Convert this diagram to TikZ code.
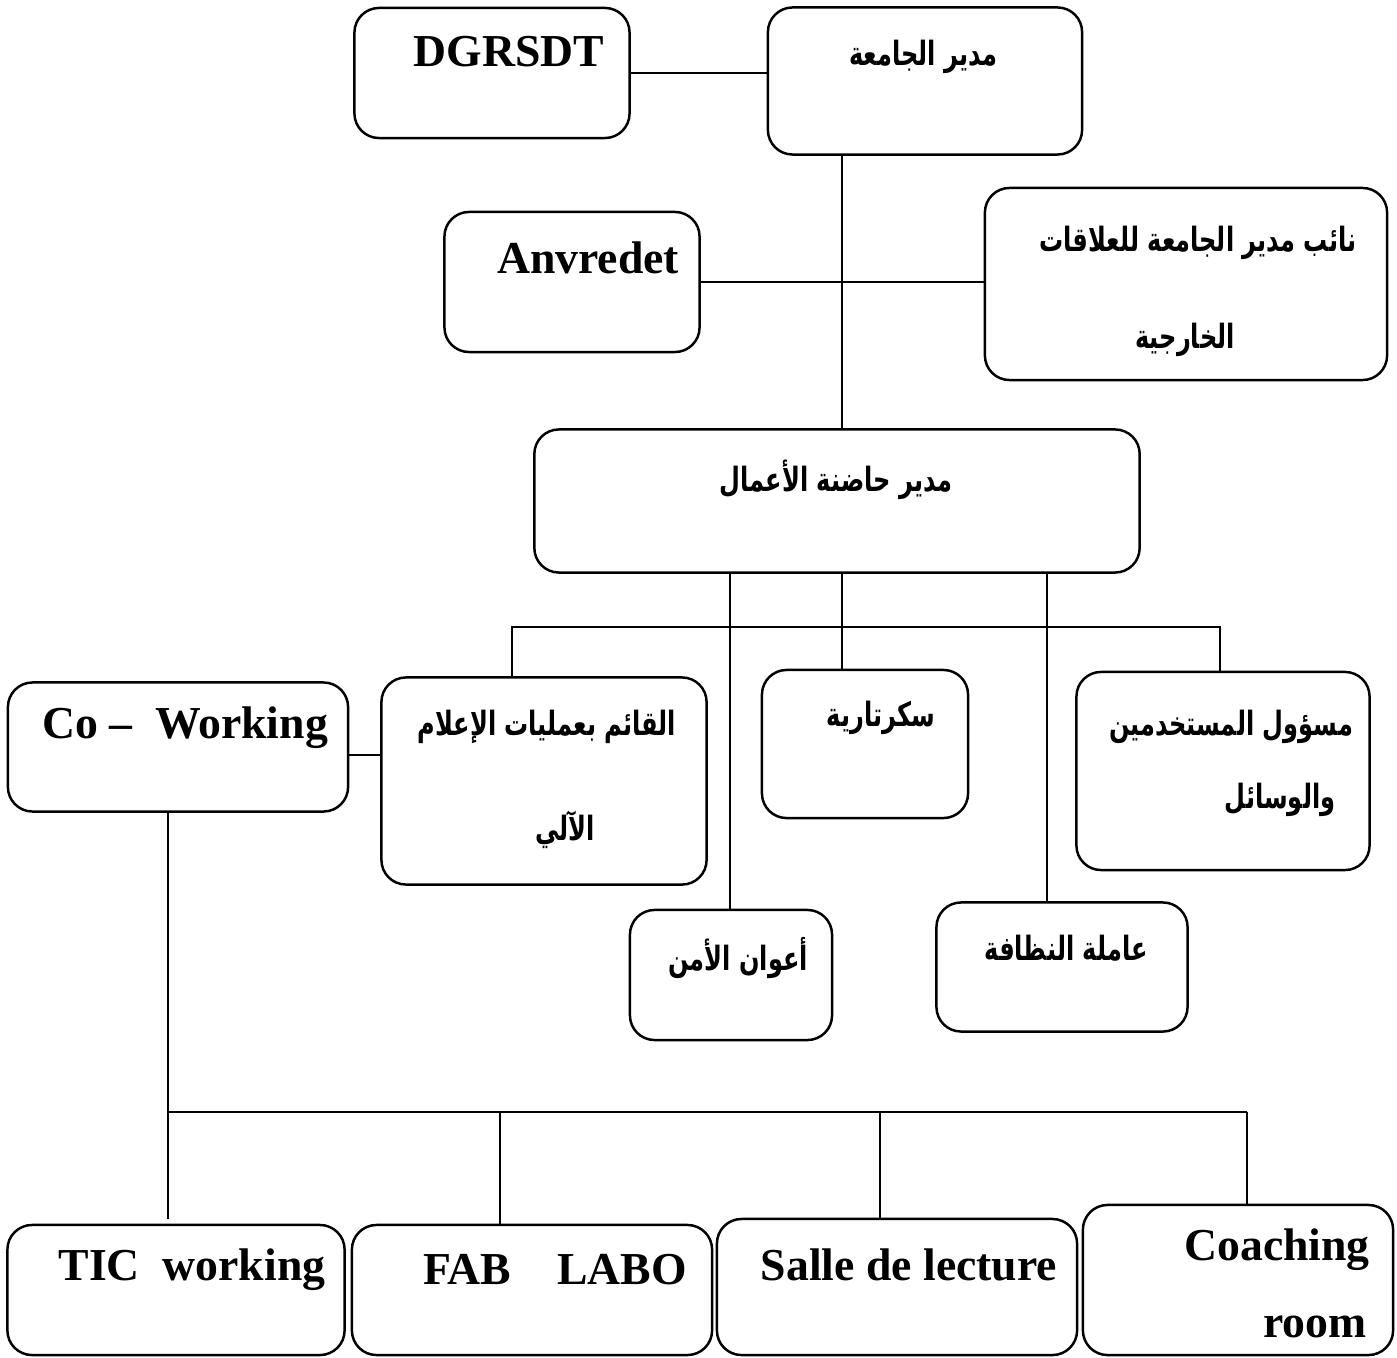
\documentclass[tikz,border=0pt]{standalone}
\usepackage{fontspec}
\setmainfont{Liberation Serif}
\newfontfamily\arabicfont[Script=Arabic]{DejaVu Sans}
\TeXXeTstate=1
\newcommand{\artext}[1]{\scalebox{0.72}[1]{\arabicfont\bfseries\beginR #1\endR}}

\begin{document}
\begin{tikzpicture}[x=0.01cm, y=-0.01cm]
	\tikzstyle{box} = [draw, rectangle, rounded corners=7pt, line width=0.7pt]
	\tikzstyle{link} = [line width=0.5pt]
	\tikzstyle{lat} = [font=\fontsize{13}{15}\selectfont\bfseries, inner sep=0pt]
	\tikzstyle{ar} = [font=\fontsize{9.5}{11}\selectfont, inner sep=0pt]

	\useasboundingbox (0,0) rectangle (1397,1358);

	% boxes
	\node [box, minimum width=2.75cm, minimum height=1.30cm] (dgrsdt) at (492,73) {};
	\node [box, minimum width=3.14cm, minimum height=1.47cm] (rector) at (925,81) {};
	\node [box, minimum width=2.55cm, minimum height=1.40cm] (anvredet) at (572,282) {};
	\node [box, minimum width=4.02cm, minimum height=1.92cm] (vice) at (1186,284) {};
	\node [box, minimum width=6.05cm, minimum height=1.43cm] (incub) at (837,501) {};
	\node [box, minimum width=3.40cm, minimum height=1.29cm] (cowork) at (178,747) {};
	\node [box, minimum width=3.25cm, minimum height=2.07cm] (info) at (544,781) {};
	\node [box, minimum width=2.06cm, minimum height=1.48cm] (secr) at (865,744) {};
	\node [box, minimum width=2.93cm, minimum height=1.98cm] (users) at (1223,771) {};
	\node [box, minimum width=2.02cm, minimum height=1.30cm] (security) at (731,975) {};
	\node [box, minimum width=2.51cm, minimum height=1.29cm] (clean) at (1062,967) {};
	\node [box, minimum width=3.37cm, minimum height=1.30cm] (tic) at (176,1290) {};
	\node [box, minimum width=3.60cm, minimum height=1.30cm] (fab) at (532,1290) {};
	\node [box, minimum width=3.60cm, minimum height=1.36cm] (salle) at (897,1287) {};
	\node [box, minimum width=3.10cm, minimum height=1.50cm] (coach) at (1238,1280) {};

	% texts
	\node [lat] (dgrsdt-t) at (509,52) {DGRSDT};
	\node [ar] (rector-t) at (923,57) {\artext{مدير الجامعة}};
	\node [lat] (anvredet-t) at (588,258) {Anvredet};
	\node [ar] (vice-t1) at (1198,243) {\artext{نائب مدير الجامعة للعلاقات}};
	\node [ar] (vice-t2) at (1185,340) {\artext{الخارجية}};
	\node [ar] (incub-t) at (836,480) {\artext{مدير حاضنة  الأعمال}};
	\node [lat] (cowork-t) at (185,728) {Co –\ \ Working};
	\node [ar] (info-t1) at (547,727) {\artext{القائم بعمليات الإعلام}};
	\node [ar] (info-t2) at (565,830) {\artext{الآلي}};
	\node [ar] (secr-t) at (881,718) {\artext{سكرتارية}};
	\node [ar] (users-t1) at (1231,727) {\artext{مسؤول المستخدمين}};
	\node [ar] (users-t2) at (1280,800) {\artext{والوسائل}};
	\node [ar] (security-t) at (738,958) {\artext{أعوان الأمن}};
	\node [ar] (clean-t) at (1066,948) {\artext{عاملة النظافة}};
	\node [lat] (tic-t) at (192,1270) {TIC\ \ working};
	\node [lat] (fab-t) at (555,1270) {FAB\ \ \ \ LABO};
	\node [lat] (salle-t) at (909,1265) {Salle de lecture};
	\node [lat] (coach-t1) at (1277,1250) {Coaching};
	\node [lat] (coach-t2) at (1315,1327) {room};

	% junction points
	\coordinate (spine) at (842,0);
	\coordinate (busL) at (512,627);
	\coordinate (busR) at (1220,627);
	\coordinate (guard) at (730,0);
	\coordinate (sweep) at (1047,0);
	\coordinate (side) at (0,755);
	\coordinate (trunk) at (168,1112);
	\coordinate (trunk-end) at (168,1219);
	\coordinate (drop-fab) at (500,1112);
	\coordinate (drop-salle) at (880,1112);
	\coordinate (drop-coach) at (1247,1112);

	% connectors
	\draw [link] (dgrsdt.east) -- (dgrsdt.east -| rector.west);
	\draw [link] (rector.south -| spine) -- (incub.north -| spine);
	\draw [link] (anvredet.east) -- (anvredet.east -| vice.west);
	\draw [link] (incub.south -| guard) -- (security.north -| guard);
	\draw [link] (incub.south -| spine) -- (secr.north -| spine);
	\draw [link] (incub.south -| sweep) -- (clean.north -| sweep);
	\draw [link] (info.north -| busL) -- (busL) -- (busR) -- (users.north -| busR);
	\draw [link] (cowork.east |- side) -- (info.west |- side);
	\draw [link] (cowork.south -| trunk) -- (trunk-end);
	\draw [link] (trunk) -- (drop-coach);
	\draw [link] (drop-fab) -- (fab.north -| drop-fab);
	\draw [link] (drop-salle) -- (salle.north -| drop-salle);
	\draw [link] (drop-coach) -- (coach.north -| drop-coach);
\end{tikzpicture}
\end{document}
